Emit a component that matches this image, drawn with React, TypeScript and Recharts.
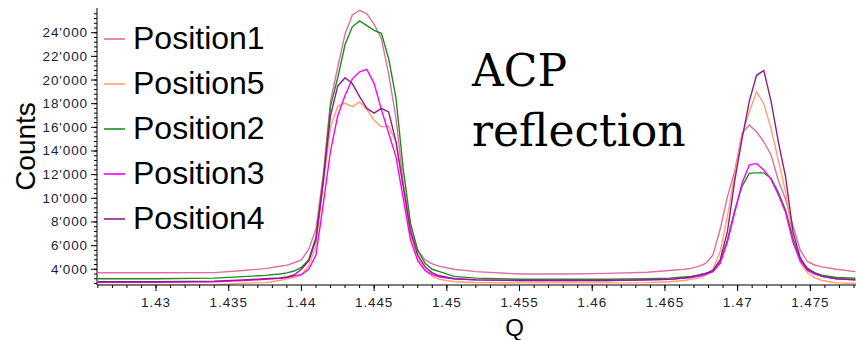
import { LineChart, Line, XAxis, YAxis, Legend } from 'recharts';

// Q positions (shared by all scans)
const Q = [
  1.426, 1.43, 1.434, 1.436, 1.4375, 1.4385, 1.439, 1.4395, 1.44, 1.4405,
  1.441, 1.4415, 1.442, 1.4425, 1.443, 1.4435, 1.444, 1.4445, 1.445, 1.4455,
  1.446, 1.4465, 1.447, 1.4475, 1.448, 1.4485, 1.449, 1.4495, 1.4505, 1.452,
  1.455, 1.458, 1.461, 1.4638, 1.4653, 1.4663, 1.4668, 1.4673, 1.4678, 1.4683,
  1.4688, 1.4693, 1.4698, 1.4703, 1.4708, 1.4713, 1.4718, 1.4723, 1.4728, 1.4733,
  1.4738, 1.4743, 1.4748, 1.4753, 1.4758, 1.4768, 1.4781,
];

const POS1 = [
  3700, 3700, 3720, 3900, 4050, 4250, 4350, 4550, 4800, 5700,
  7400, 12000, 18200, 21100, 23900, 25500, 25900, 25600, 24700, 23500,
  20500, 16800, 11300, 7400, 5600, 4800, 4450, 4250, 4000, 3800,
  3600, 3600, 3650, 3750, 3900, 4000, 4080, 4250, 4500, 5200,
  7400, 10140, 12300, 15500, 16190, 15630, 14780, 13660, 11500, 9900,
  7700, 5630, 4640, 4360, 4200, 4000, 3800,
];

const POS5 = [
  2660, 2660, 2680, 2830, 2870, 3050, 3200, 3300, 3500, 4300,
  6000, 11000, 16000, 17800, 18030, 17750, 18150, 17500, 16600, 16050,
  16100, 14800, 11000, 7000, 5000, 3900, 3400, 3150, 2950, 2880,
  2850, 2850, 2850, 2870, 2950, 3050, 3150, 3250, 3500, 4000,
  5500, 8500, 12000, 15300, 17300, 19000, 18000, 15900, 13200, 10500,
  6600, 4600, 3700, 3300, 3050, 2850, 2820,
];

const POS2 = [
  3200, 3200, 3250, 3380, 3480, 3600, 3700, 3850, 4150, 4800,
  6700, 11500, 17800, 20200, 23000, 24500, 25000, 24600, 24200, 23950,
  21800, 18500, 12500, 7900, 5600, 4500, 4000, 3800, 3400, 3250,
  3150, 3150, 3150, 3200, 3250, 3350, 3400, 3500, 3650, 3800,
  4600, 6500, 9000, 11000, 12110, 12150, 12150, 11700, 10500, 9000,
  6600, 4790, 4100, 3700, 3500, 3300, 3240,
];

const POS3 = [
  2900, 2900, 2950, 3050, 3150, 3230, 3300, 3450, 3550, 4000,
  5200, 9500, 14000, 17000, 18700, 20100, 20700, 20900, 19700, 17500,
  15500, 13500, 10000, 6500, 4700, 3900, 3550, 3350, 3200, 3100,
  3050, 3050, 3050, 3100, 3150, 3250, 3300, 3400, 3550, 3800,
  4500, 6300, 8800, 11270, 12800, 12950, 12400, 11600, 10300, 8800,
  6300, 4700, 3900, 3600, 3400, 3200, 3100,
];

const POS4 = [
  2950, 2950, 3000, 3100, 3200, 3260, 3350, 3520, 4000, 4700,
  6500, 11500, 17000, 19500, 20200, 19700, 18600, 17600, 17200, 17600,
  17300, 14800, 11000, 7200, 5200, 4200, 3700, 3450, 3200, 3100,
  3050, 3050, 3050, 3100, 3150, 3250, 3350, 3500, 3650, 3900,
  4800, 7200, 11500, 15000, 18200, 20400, 20800, 18200, 14780, 11800,
  7200, 5000, 4000, 3700, 3400, 3200, 3100,
];

const SERIES = [
  { key: 'p1', name: 'Position1', color: '#dd6fa3' },
  { key: 'p5', name: 'Position5', color: '#ffa06e' },
  { key: 'p2', name: 'Position2', color: '#1e8c1e' },
  { key: 'p3', name: 'Position3', color: '#ff00ff' },
  { key: 'p4', name: 'Position4', color: '#8c1e8c' },
];

const Y_MAJOR = [4000, 6000, 8000, 10000, 12000, 14000, 16000, 18000, 20000, 22000, 24000];
const Y_TICKS = Array.from({ length: 58 }, (_, i) => 2800 + i * 400);
const X_TICKS = Array.from({ length: 53 }, (_, i) => +(1.426 + i * 0.001).toFixed(3));

const data = Q.map((q, i) => ({
  q,
  p1: POS1[i],
  p5: POS5[i],
  p2: POS2[i],
  p3: POS3[i],
  p4: POS4[i],
}));

const SANS = '"Liberation Sans", Arial, sans-serif';
const tickFont = { fontFamily: SANS, fontSize: 13.5, fill: '#1c2233', letterSpacing: 0.9 };

const fmtY = (v: number) => v.toString().replace(/\B(?=(\d{3})+(?!\d))/g, "'");

function YTick({ x, y, payload }: any) {
  const v = payload.value;
  if (!Y_MAJOR.includes(v)) return null;
  return (
    <g>
      <line x1={x + 1} x2={x + 7} y1={y} y2={y} stroke="#000" />
      <text x={x - 2} y={y} dy={4.5} textAnchor="end" {...tickFont}>
        {fmtY(v)}
      </text>
    </g>
  );
}

function XTick({ x, y, payload }: any) {
  const v = payload.value;
  if (Math.round(v * 1000) % 5 !== 0) return null;
  return (
    <g>
      <line x1={x} x2={x} y1={y - 5} y2={y + 1} stroke="#000" />
      <text x={x} y={y + 16.5} textAnchor="middle" {...tickFont}>
        {parseFloat(v.toFixed(3)).toString()}
      </text>
    </g>
  );
}

const renderLegend = () => (
  <div>
    {SERIES.map((s) => (
      <div key={s.key} style={{ display: 'flex', alignItems: 'center', height: 45 }}>
        <svg width={21} height={4} style={{ marginRight: 8, display: 'block' }}>
          <line x1={0} x2={21} y1={2} y2={2} stroke={s.color} strokeWidth={1.6} />
        </svg>
        <span style={{ fontFamily: SANS, fontSize: 32, color: '#000', lineHeight: 'normal' }}>{s.name}</span>
      </div>
    ))}
  </div>
);

export default function App() {
  return (
    <div style={{ position: 'absolute', left: 0, top: 0, width: 856, height: 340, background: '#fff' }}>
      <LineChart width={856} height={340} data={data} margin={{ top: 8, right: 0, bottom: 0, left: 0 }}>
        <XAxis
          dataKey="q"
          type="number"
          domain={[1.42594, 1.47814]}
          ticks={X_TICKS}
          interval={0}
          height={55}
          tickSize={3}
          tickMargin={2}
          axisLine={{ stroke: '#000' }}
          tickLine={{ stroke: '#000' }}
          tick={<XTick />}
          label={{
            value: 'Q',
            content: (p: any) => (
              <text
                x={p.viewBox.x + p.viewBox.width / 2 + 38}
                y={p.viewBox.y + 51}
                textAnchor="middle"
                fontFamily={SANS}
                fontSize={24}
                fill="#000"
              >
                Q
              </text>
            ),
          }}
        />
        <YAxis
          type="number"
          domain={[2670, 26090]}
          allowDataOverflow
          ticks={Y_TICKS}
          interval={0}
          width={97}
          tickSize={3}
          tickMargin={4}
          axisLine={{ stroke: '#000' }}
          tickLine={{ stroke: '#000' }}
          tick={<YTick />}
          label={{
            value: 'Counts',
            content: (p: any) => {
              const cx = 25;
              const cy = p.viewBox.y + p.viewBox.height / 2;
              return (
                <text
                  x={cx}
                  y={cy}
                  dy={10}
                  transform={`rotate(-90, ${cx}, ${cy})`}
                  textAnchor="middle"
                  fontFamily={SANS}
                  fontSize={28}
                  fill="#000"
                >
                  Counts
                </text>
              );
            },
          }}
        />
        <Legend
          layout="vertical"
          align="center"
          verticalAlign="middle"
          content={renderLegend}
          wrapperStyle={{ left: 104, top: 16, width: 'auto', height: 'auto' }}
        />
        {SERIES.map((s) => (
          <Line
            key={s.key}
            dataKey={s.key}
            name={s.name}
            type="linear"
            stroke={s.color}
            strokeWidth={1.4}
            dot={false}
            activeDot={false}
            isAnimationActive={false}
          />
        ))}
      </LineChart>
      <div
        style={{
          position: 'absolute',
          left: 472,
          top: 41,
          fontFamily: '"DejaVu Serif", serif',
          fontSize: 44,
          lineHeight: '60px',
          color: '#000',
        }}
      >
        ACP
        <br />
        reflection
      </div>
    </div>
  );
}
